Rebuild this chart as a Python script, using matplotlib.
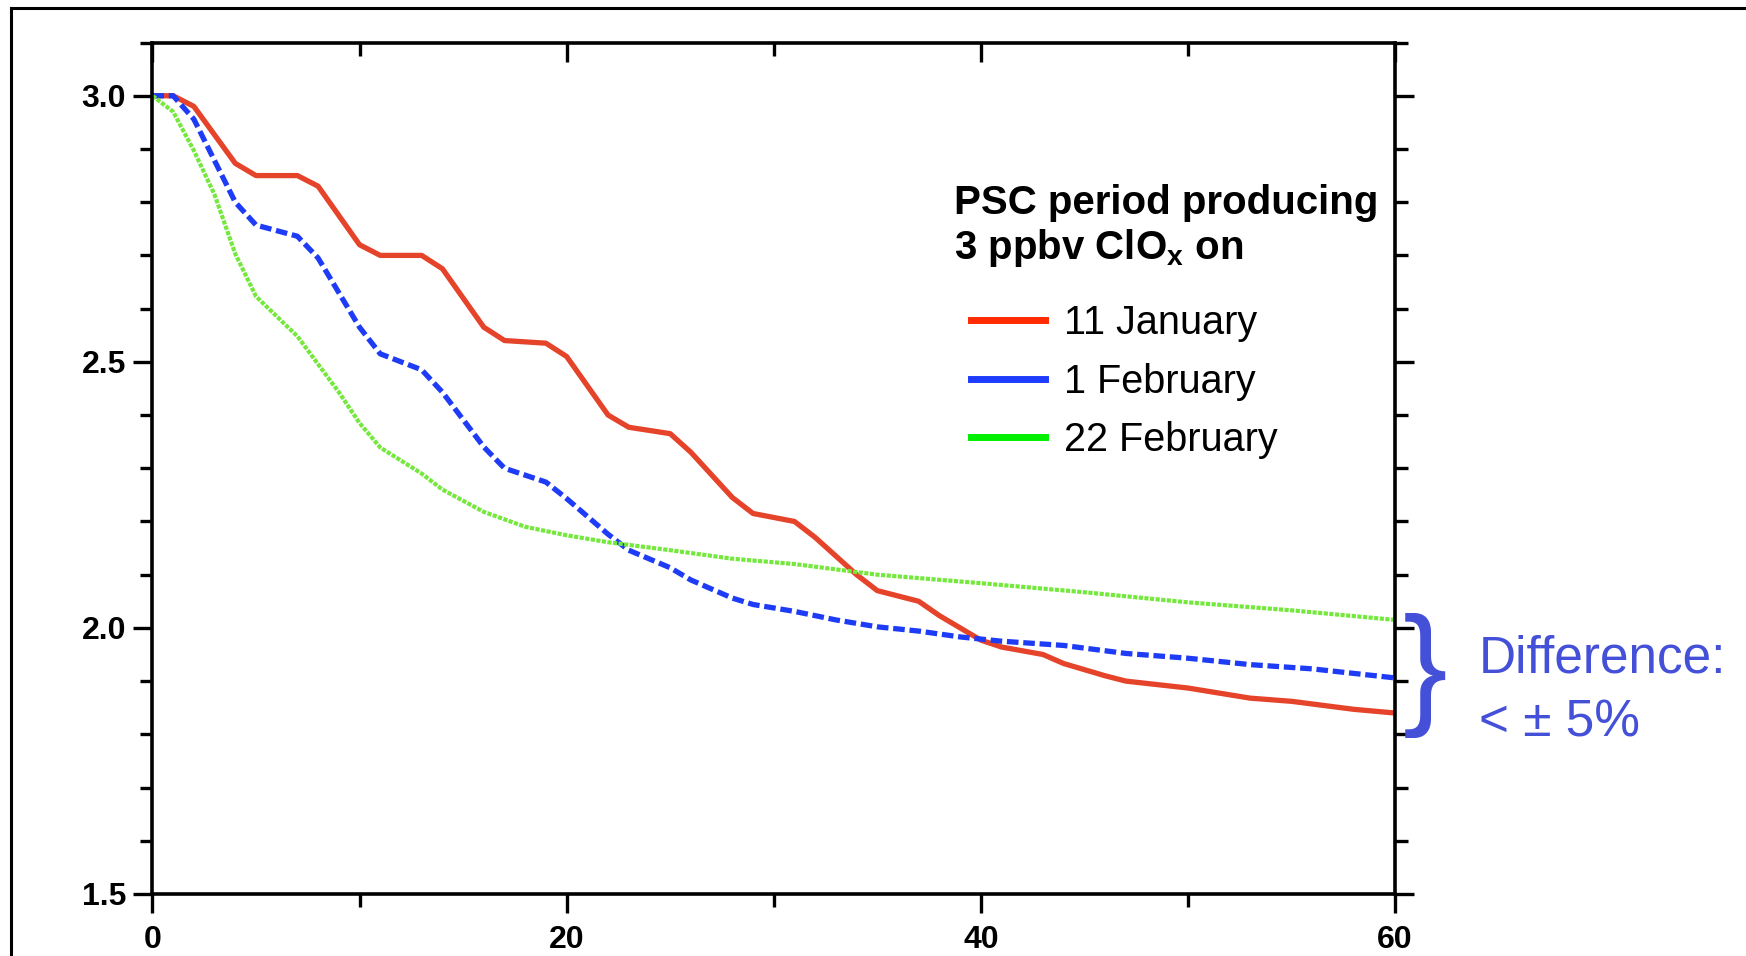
import matplotlib
matplotlib.use("Agg")
import matplotlib.pyplot as plt
from matplotlib.lines import Line2D
from matplotlib.ticker import MultipleLocator, FormatStrFormatter

plt.rcParams['font.family'] = ['Liberation Sans', 'DejaVu Sans']
plt.rcParams['mathtext.fontset'] = 'custom'
plt.rcParams['mathtext.bf'] = 'Liberation Sans:bold'
plt.rcParams['xtick.labelsize'] = 23
plt.rcParams['ytick.labelsize'] = 23

# values
jan_days = [0, 1, 2, 4, 5, 7, 8, 10, 11, 13, 14, 16, 17, 19, 20, 22, 23, 25, 26, 28, 29, 31,
            32, 34, 35, 37, 38, 40, 41, 43, 44, 46, 47, 50, 53, 55, 58, 60]
jan_vals = [3.0, 3.0, 2.98, 2.873, 2.85, 2.85, 2.83, 2.72, 2.70, 2.70, 2.675, 2.565, 2.54,
            2.535, 2.51, 2.40, 2.377, 2.365, 2.33, 2.245, 2.215, 2.20, 2.17, 2.10, 2.07,
            2.05, 2.023, 1.977, 1.964, 1.95, 1.933, 1.91, 1.90, 1.887, 1.868, 1.862, 1.847, 1.84]

feb1_days = [0, 1, 2, 4, 5, 7, 8, 10, 11, 13, 14, 16, 17, 19, 20, 22, 23, 25, 26, 28, 29, 31,
             33, 35, 37, 39, 41, 44, 47, 50, 53, 56, 60]
feb1_vals = [3.0, 3.0, 2.956, 2.80, 2.757, 2.736, 2.695, 2.565, 2.515, 2.485, 2.443, 2.34,
             2.30, 2.274, 2.243, 2.176, 2.146, 2.113, 2.09, 2.056, 2.044, 2.031, 2.015, 2.002,
             1.994, 1.983, 1.975, 1.967, 1.952, 1.943, 1.931, 1.923, 1.906]

feb22_days = [0, 1, 2, 3, 4, 5, 7, 9, 10, 11, 13, 14, 16, 18, 20, 22, 25, 28, 31, 35, 40,
              45, 50, 55, 60]
feb22_vals = [3.0, 2.97, 2.897, 2.814, 2.703, 2.623, 2.548, 2.443, 2.385, 2.339, 2.29, 2.26,
              2.218, 2.19, 2.174, 2.161, 2.146, 2.13, 2.12, 2.10, 2.084, 2.067, 2.048, 2.033, 2.015]

labels = ["11 January", "1 February", "22 February"]

fig = plt.figure(figsize=(17.46, 9.56), dpi=100)
ax = fig.add_axes([0.0873, 0.0649, 0.7117, 0.8906])

ax.plot(jan_days, jan_vals, color='#E5432A', lw=3.8, solid_joinstyle='round')
ax.plot(feb1_days, feb1_vals, color='#1E3CF5', lw=3.8, linestyle=(0, (2.2, 0.9)))
ax.plot(feb22_days, feb22_vals, color='#74E83C', lw=3.0, linestyle=(0, (1.0, 0.35)))

ax.set_xlim(0, 60)
ax.set_ylim(1.5, 3.1)
ax.xaxis.set_major_locator(MultipleLocator(20))
ax.xaxis.set_minor_locator(MultipleLocator(10))
ax.yaxis.set_major_locator(MultipleLocator(0.5))
ax.yaxis.set_minor_locator(MultipleLocator(0.1))
ax.yaxis.set_major_formatter(FormatStrFormatter('%.1f'))

for s in ax.spines.values():
    s.set_linewidth(2.6)
ax.tick_params(which='both', width=2.4, direction='out', top=True, right=True)
ax.tick_params(which='major', length=14)
ax.tick_params(which='minor', length=9)
ax.tick_params(axis='x', pad=8)
ax.tick_params(axis='y', pad=5)
# top ticks point into the plot
for t in ax.xaxis.get_major_ticks() + ax.xaxis.get_minor_ticks():
    t.tick2line.set_marker(matplotlib.markers.TICKDOWN)
for lab in ax.get_xticklabels() + ax.get_yticklabels():
    lab.set_fontweight('bold')

# legend block
ax.text(0.645, 0.799, "PSC period producing", transform=ax.transAxes,
        fontsize=29, fontweight='bold', va='baseline', ha='left')
ax.text(0.645, 0.746, r"3 ppbv ClO$_\mathbf{x}$ on", transform=ax.transAxes,
        fontsize=29, fontweight='bold', va='baseline', ha='left')

handles = [Line2D([], [], color='#FF2A00', lw=5),
           Line2D([], [], color='#1E3CFF', lw=5),
           Line2D([], [], color='#00F000', lw=5)]
ax.legend(handles, labels, loc='upper left', bbox_to_anchor=(0.659, 0.693),
          frameon=False, fontsize=28.5, handlelength=1.85, handletextpad=0.5,
          labelspacing=0.52, borderpad=0, borderaxespad=0)

# difference annotation
fig.text(0.8035, 0.293, "}", fontsize=96, color='#4450D8', ha='left', va='center')
fig.text(0.847, 0.311, "Difference:", fontsize=37, color='#4450D8', ha='left', va='center')
fig.text(0.847, 0.244, "< \u00b1 5%", fontsize=37, color='#4450D8', ha='left', va='center')

# outer frame
fig.add_artist(Line2D([0.0063, 0.0063], [-0.1, 0.9916], transform=fig.transFigure,
                      color='black', lw=2.2))
fig.add_artist(Line2D([0.0063, 1.1], [0.9916, 0.9916], transform=fig.transFigure,
                      color='black', lw=2.2))

fig.savefig("out.png", dpi=100)
